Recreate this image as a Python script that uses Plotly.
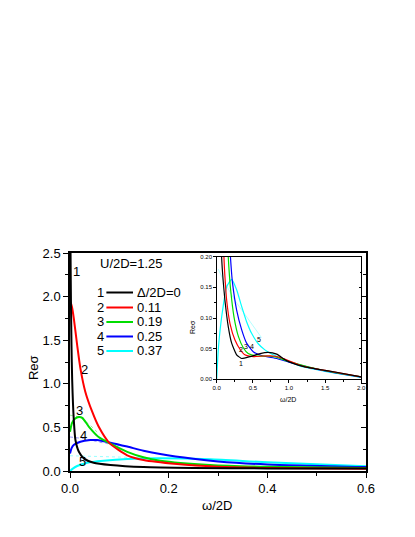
import plotly.graph_objects as go

# ---------------- data ----------------
# main panel: omega/2D vs Re sigma
w1 = [0.0005, 0.001, 0.002, 0.003, 0.0044, 0.0077, 0.011, 0.018, 0.028, 0.048, 0.082, 0.149, 0.25, 0.4, 0.6]
s1 = [4.0, 2.6, 1.9, 1.45, 1.05, 0.585, 0.355, 0.22, 0.145, 0.095, 0.069, 0.045, 0.035, 0.03, 0.028]

w2 = [0, 0.001, 0.004, 0.0077, 0.0145, 0.021, 0.031, 0.045, 0.058, 0.08, 0.116, 0.149, 0.217, 0.3, 0.4, 0.6]
s2 = [1.85, 1.94, 1.88, 1.75, 1.445, 1.18, 0.91, 0.68, 0.51, 0.32, 0.18, 0.126, 0.08, 0.05, 0.035, 0.025]

w3 = [0, 0.004, 0.01, 0.018, 0.025, 0.038, 0.058, 0.08, 0.116, 0.149, 0.183, 0.284, 0.4, 0.6]
s3 = [0.45, 0.55, 0.6, 0.62, 0.61, 0.51, 0.39, 0.32, 0.22, 0.157, 0.118, 0.069, 0.048, 0.035]

w4 = [0, 0.003, 0.008, 0.021, 0.041, 0.055, 0.082, 0.116, 0.149, 0.183, 0.25, 0.3, 0.4, 0.6]
s4 = [0.2, 0.26, 0.3, 0.336, 0.355, 0.355, 0.325, 0.28, 0.233, 0.195, 0.14, 0.11, 0.075, 0.045]

w5 = [0, 0.005, 0.0145, 0.035, 0.068, 0.116, 0.183, 0.284, 0.4, 0.6]
s5 = [0, 0.025, 0.057, 0.095, 0.118, 0.138, 0.145, 0.135, 0.1, 0.055]

# thin dotted fits in main panel
fw3 = [0, 0.02, 0.04, 0.06]
fs3 = [0.64, 0.62, 0.53, 0.42]
fw4 = [0, 0.03, 0.06, 0.1]
fs4 = [0.39, 0.37, 0.33, 0.29]
fw5 = [0, 0.05, 0.1, 0.15]
fs5 = [0.175, 0.17, 0.16, 0.15]

# inset panel
iw1 = [0.0, 0.01, 0.025, 0.045, 0.068, 0.09, 0.114, 0.16, 0.207, 0.276, 0.345, 0.46, 0.6, 0.712, 0.83, 0.966, 1.195, 1.425, 1.655, 2.0]
is1 = [3.0, 1.2, 0.6, 0.33, 0.2, 0.16, 0.129, 0.086, 0.059, 0.040, 0.034, 0.037, 0.042, 0.044, 0.041, 0.0305, 0.021, 0.016, 0.0115, 0.004]

iw2 = [0, 0.01, 0.03, 0.06, 0.1, 0.118, 0.138, 0.184, 0.253, 0.322, 0.39, 0.506, 0.643, 0.781, 0.92, 1.2, 1.5, 2.0]
is2 = [1.9, 1.5, 0.9, 0.45, 0.2, 0.16, 0.129, 0.091, 0.064, 0.049, 0.040, 0.037, 0.038, 0.038, 0.034, 0.021, 0.0145, 0.004]

iw3 = [0, 0.02, 0.05, 0.1, 0.16, 0.176, 0.193, 0.239, 0.3, 0.37, 0.436, 0.55, 0.69, 0.83, 1.0, 1.5, 2.0]
is3 = [0.45, 0.6, 0.55, 0.4, 0.2, 0.17, 0.146, 0.102, 0.07, 0.051, 0.042, 0.038, 0.038, 0.036, 0.029, 0.014, 0.004]

iw4 = [0, 0.02, 0.05, 0.1, 0.15, 0.19, 0.205, 0.22, 0.276, 0.345, 0.414, 0.506, 0.643, 0.83, 1.0, 1.5, 2.0]
is4 = [0.2, 0.34, 0.35, 0.33, 0.28, 0.2, 0.175, 0.156, 0.113, 0.081, 0.059, 0.045, 0.038, 0.034, 0.028, 0.0135, 0.0035]

iw5 = [0, 0.015, 0.03, 0.069, 0.138, 0.207, 0.276, 0.345, 0.414, 0.483, 0.575, 0.667, 0.781, 0.92, 1.2, 1.5, 2.0]
is5 = [0, 0.035, 0.06, 0.102, 0.151, 0.163, 0.146, 0.119, 0.094, 0.075, 0.058, 0.048, 0.040, 0.033, 0.02, 0.013, 0.003]

ifw5 = [0.02, 0.1, 0.25, 0.41, 0.55, 0.62]
ifs5 = [0.18, 0.16, 0.129, 0.102, 0.078, 0.068]

labels_num = ["1", "2", "3", "4", "5"]
labels_gap = ["Δ/2D=0", "0.11", "0.19", "0.25", "0.37"]
colors = ["#000000", "#FF0000", "#00DD00", "#0000FF", "#00FFFF"]

# curve-number label positions (data coords)
main_lab_x = [0.0125, 0.030, 0.020, 0.028, 0.025]
main_lab_y = [2.29, 1.16, 0.69, 0.41, 0.107]
ins_lab_x = [0.33, 0.335, 0.41, 0.49, 0.59]
ins_lab_y = [0.026, 0.049, 0.053, 0.054, 0.065]

FONT = "Liberation Sans, Arial, sans-serif"

fig = go.Figure()

main = [(w1, s1), (w2, s2), (w3, s3), (w4, s4), (w5, s5)]
inset = [(iw1, is1), (iw2, is2), (iw3, is3), (iw4, is4), (iw5, is5)]

# dotted fits (under)
for fx, fy, c in [(fw3, fs3, "#7FE87F"), (fw4, fs4, "#7F7FFF"), (fw5, fs5, "#7FFFFF")]:
    fig.add_trace(go.Scatter(x=fx, y=fy, mode="lines", line=dict(color=c, width=0.8, dash="dot"),
                             xaxis="x", yaxis="y", showlegend=False, hoverinfo="skip"))
fig.add_trace(go.Scatter(x=ifw5, y=ifs5, mode="lines", line=dict(color="#7FFFFF", width=0.6),
                         xaxis="x2", yaxis="y2", showlegend=False, hoverinfo="skip"))

for i in [4, 3, 2, 1, 0]:
    x, y = main[i]
    fig.add_trace(go.Scatter(x=x, y=y, mode="lines", line=dict(color=colors[i], width=2, shape="spline", smoothing=0.6),
                             xaxis="x", yaxis="y", showlegend=False))
for i in [4, 3, 2, 1, 0]:
    x, y = inset[i]
    fig.add_trace(go.Scatter(x=x, y=y, mode="lines", line=dict(color=colors[i], width=1.2, shape="spline", smoothing=0.5),
                             xaxis="x2", yaxis="y2", showlegend=False))

# invisible helpers so the mirror axes (inward ticks) are drawn
fig.add_trace(go.Scatter(x=[None], y=[None], xaxis="x", yaxis="y3", showlegend=False, hoverinfo="skip"))
fig.add_trace(go.Scatter(x=[None], y=[None], xaxis="x2", yaxis="y4", showlegend=False, hoverinfo="skip"))

ann = []
for i in range(5):
    ann.append(dict(x=main_lab_x[i], y=main_lab_y[i], xref="x", yref="y", text=labels_num[i], showarrow=False,
                    font=dict(size=13, family=FONT, color="black")))
    ann.append(dict(x=ins_lab_x[i], y=ins_lab_y[i], xref="x2", yref="y2", text=labels_num[i], showarrow=False,
                    font=dict(size=7, family=FONT, color="black")))

# manual legend (paper coordinates)
leg_y = [0.8188, 0.7500, 0.6835, 0.6170, 0.5505]
shapes = []
for i in range(5):
    ann.append(dict(x=0.1027, y=leg_y[i], xref="paper", yref="paper", text=labels_num[i], showarrow=False,
                    xanchor="center", yanchor="middle", font=dict(size=13, family=FONT, color="black")))
    ann.append(dict(x=0.2205, y=leg_y[i], xref="paper", yref="paper", text=labels_gap[i], showarrow=False,
                    xanchor="left", yanchor="middle", font=dict(size=13, family=FONT, color="black")))
    shapes.append(dict(type="line", xref="paper", yref="paper", x0=0.1229, x1=0.2128, y0=leg_y[i], y1=leg_y[i],
                       line=dict(color=colors[i], width=2)))

ann.append(dict(x=0.2094, y=0.9518, xref="paper", yref="paper", text="U/2D=1.25", showarrow=False,
                xanchor="center", yanchor="middle", font=dict(size=13, family=FONT, color="black")))
# axis titles
ann.append(dict(x=0.4966, y=-0.156, xref="paper", yref="paper", text="ω/2D", showarrow=False,
                xanchor="center", yanchor="middle", font=dict(size=13, family=FONT, color="black")))
ann.append(dict(x=-0.1229, y=0.475, xref="paper", yref="paper", text="Reσ", showarrow=False, textangle=-90,
                xanchor="center", yanchor="middle", font=dict(size=13, family=FONT, color="black")))
ann.append(dict(x=0.7357, y=0.3257, xref="paper", yref="paper", text="ω/2D", showarrow=False,
                xanchor="center", yanchor="middle", font=dict(size=7, family=FONT, color="black")))
ann.append(dict(x=0.4158, y=0.6606, xref="paper", yref="paper", text="Reσ", showarrow=False, textangle=-90,
                xanchor="center", yanchor="middle", font=dict(size=7, family=FONT, color="black")))

ax_common = dict(showgrid=False, zeroline=False, showline=True, linecolor="black", color="black")

# page body has an 8px default margin -> compensate
fig.update_layout(
    width=399, height=521,
    margin=dict(l=61.5, r=40.5, t=245, b=58, pad=0),
    paper_bgcolor="white", plot_bgcolor="white",
    font=dict(family=FONT, color="black"),
    showlegend=False,
    annotations=ann, shapes=shapes,
    xaxis=dict(domain=[0, 1], range=[0, 0.6], anchor="y", tick0=0, dtick=0.2, tickformat=".1f",
               ticks="outside", ticklen=5, tickwidth=1, linewidth=1.5, mirror=True,
               minor=dict(dtick=0.1, ticks="outside", ticklen=3, tickwidth=1),
               tickfont=dict(size=13, family=FONT), **ax_common),
    yaxis=dict(domain=[0, 1], range=[0, 2.5], anchor="x", tick0=0, dtick=0.5, tickformat=".1f",
               ticks="outside", ticklen=5, tickwidth=1, linewidth=1.5, mirror=True,
               minor=dict(dtick=0.25, ticks="outside", ticklen=3, tickwidth=1),
               tickfont=dict(size=13, family=FONT), **ax_common),
    yaxis3=dict(range=[0, 2.5], overlaying="y", side="right", anchor="x", tick0=0, dtick=0.5,
                ticks="inside", ticklen=5, showticklabels=False, linewidth=1.5,
                minor=dict(dtick=0.25, ticks="inside", ticklen=3), **ax_common),
    xaxis2=dict(domain=[0.4956, 0.9838], range=[0, 2], anchor="y2", tick0=0, dtick=0.5, tickformat=".1f",
                ticks="outside", ticklen=2.5, tickwidth=0.8, linewidth=1, mirror=True,
                minor=dict(dtick=0.25, ticks="outside", ticklen=1.5, tickwidth=0.8),
                tickfont=dict(size=6, family=FONT), **ax_common),
    yaxis2=dict(domain=[0.4206, 0.983], range=[0, 0.2], anchor="x2", tick0=0, dtick=0.05, tickformat=".2f",
                ticks="outside", ticklen=2.5, tickwidth=0.8, linewidth=1, mirror=True,
                minor=dict(dtick=0.025, ticks="outside", ticklen=1.5, tickwidth=0.8),
                tickfont=dict(size=6, family=FONT), **ax_common),
    yaxis4=dict(range=[0, 0.2], overlaying="y2", side="right", anchor="x2", tick0=0, dtick=0.05,
                ticks="inside", ticklen=2.5, tickwidth=0.8, showticklabels=False, linewidth=1,
                minor=dict(dtick=0.025, ticks="inside", ticklen=1.5), **ax_common),
)

fig.write_html("out.html")
